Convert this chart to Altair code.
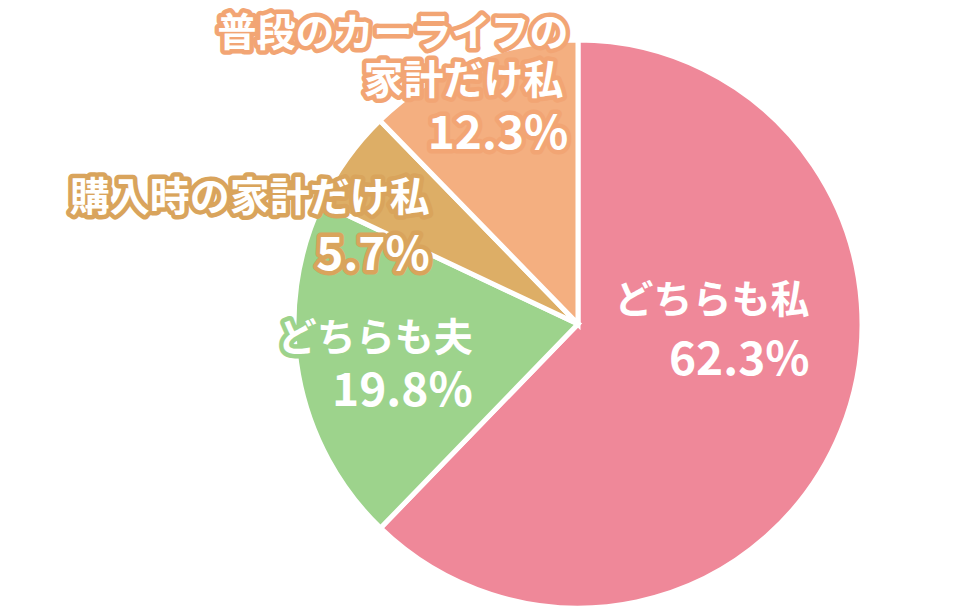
import altair as alt
import pandas as pd

# ---- data ----
categories = ["どちらも私", "どちらも夫", "購入時の家計だけ私", "普段のカーライフの家計だけ私"]
values = [62.3, 19.8, 5.7, 12.3]
name_lines = [["どちらも私"], ["どちらも夫"], ["購入時の家計だけ私"], ["普段のカーライフの", "家計だけ私"]]
pct_labels = ["62.3%", "19.8%", "5.7%", "12.3%"]

# ---- styles ----
colors = ["#EF8899", "#9DD38C", "#DDAE66", "#F4AF80"]
outline = [None, "#9DD38C", "#D9A45C", "#F2A574"]
FONT = "Noto Sans CJK JP"
# per (category, line): anchor radius, dx, dy, font size
label_style = {
    (0, 0): (170, 74, -87, 39), (0, 1): (170, 74, -27, 46),
    (1, 0): (170, 62, -16, 39), (1, 1): (170, 62, 37, 46),
    (2, 0): (230, 39, 9, 40), (2, 1): (230, 39, 66, 46),
    (3, 0): (230, 77, -77, 39), (3, 1): (230, 72, -29, 40), (3, 2): (230, 77, 24, 46),
}

df = pd.DataFrame({"cat": categories, "value": values, "idx": list(range(len(categories)))})

base = alt.Chart(df).encode(
    theta=alt.Theta("value:Q", stack=True),
    order=alt.Order("idx:Q", sort="ascending"),
)

pie = base.mark_arc(stroke="white", strokeWidth=5).encode(
    color=alt.Color("cat:N", scale=alt.Scale(domain=categories, range=colors), legend=None)
)

layers = [pie]
for ci, cat in enumerate(categories):
    lines = name_lines[ci] + [pct_labels[ci]]
    for li, line in enumerate(lines):
        r, dx, dy, fs = label_style[(ci, li)]
        t = base.transform_calculate(
            lbl=f"datum.cat === '{cat}' ? '{line}' : ''"
        )
        common = dict(radius=r, dx=dx, dy=dy, fontSize=fs, font=FONT,
                      fontWeight="bold", align="right", baseline="middle")
        if outline[ci]:
            layers.append(t.mark_text(fill=outline[ci], stroke=outline[ci],
                                      strokeWidth=9, strokeJoin="round", **common)
                          .encode(text="lbl:N"))
        layers.append(t.mark_text(fill="white", **common).encode(text="lbl:N"))

chart = alt.layer(*layers).properties(
    width=568,
    height=568,
    padding={"left": 286, "top": 32, "right": 90, "bottom": 0},
    autosize=alt.AutoSizeParams(type="none"),
    background="white",
).configure_view(strokeWidth=0)

chart.save("out.html", embed_options={"renderer": "svg", "actions": False})
